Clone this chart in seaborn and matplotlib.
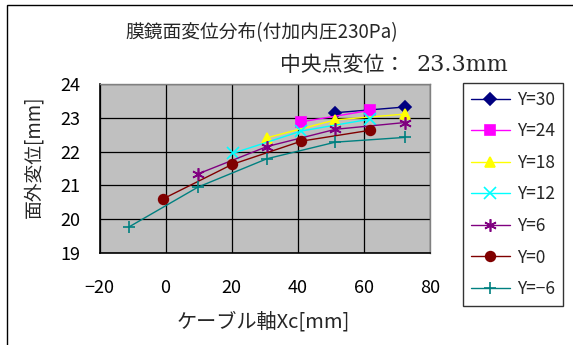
import numpy as np
import pandas as pd
import seaborn as sns
import matplotlib
matplotlib.use("Agg")
import matplotlib.pyplot as plt
from matplotlib.patches import Rectangle

# Membrane mirror out-of-plane displacement along the cable axis, per Y line
series_labels = ["Y=30", "Y=24", "Y=18", "Y=12", "Y=6", "Y=0", "Y=\u22126"]

xc_y30 = [51.4, 72.4]
dz_y30 = [23.15, 23.32]

xc_y24 = [41.1, 61.8]
dz_y24 = [22.88, 23.22]

xc_y18 = [30.7, 51.4, 72.4]
dz_y18 = [22.41, 22.94, 23.11]

xc_y12 = [20.4, 41.1, 61.8]
dz_y12 = [21.95, 22.61, 22.96]

xc_y6 = [9.8, 30.7, 51.4, 72.4]
dz_y6 = [21.34, 22.15, 22.66, 22.86]

xc_y0 = [-0.8, 20.1, 41.1, 61.8]
dz_y0 = [20.60, 21.62, 22.31, 22.63]

xc_ym6 = [-11.1, 9.8, 30.7, 51.4, 72.4]
dz_ym6 = [19.77, 20.95, 21.79, 22.28, 22.42]

x_ticks = [-20, 0, 20, 40, 60, 80]
y_ticks = [19, 20, 21, 22, 23, 24]

title_text = "膜鏡面変位分布(付加内圧230Pa)"
note_label = "中央点変位："
note_value = "23.3mm"
x_label = "ケーブル軸Xc[mm]"
y_label = "面外変位[mm]"

xs = [xc_y30, xc_y24, xc_y18, xc_y12, xc_y6, xc_y0, xc_ym6]
ys = [dz_y30, dz_y24, dz_y18, dz_y12, dz_y6, dz_y0, dz_ym6]
frames = []
for lab, xv, yv in zip(series_labels, xs, ys):
    frames.append(pd.DataFrame({"Xc": xv, "dz": yv, "series": lab}))
df = pd.concat(frames, ignore_index=True)

palette = {
    "Y=30": "#000080",
    "Y=24": "#FF00FF",
    "Y=18": "#FFFF00",
    "Y=12": "#00FFFF",
    "Y=6": "#800080",
    "Y=0": "#800000",
    "Y=\u22126": "#008080",
}
markers = {
    "Y=30": "D",
    "Y=24": "s",
    "Y=18": "^",
    "Y=12": "x",
    "Y=6": (6, 2, 0),
    "Y=0": "o",
    "Y=\u22126": "+",
}
msize = {
    "Y=30": 6, "Y=24": 6.5, "Y=18": 7.5, "Y=12": 8,
    "Y=6": 9, "Y=0": 7, "Y=\u22126": 8,
}

sns.set_theme(style="white")
plt.rcParams["font.family"] = ["Noto Sans CJK JP", "DejaVu Sans"]
plt.rcParams["axes.unicode_minus"] = True

W, H = 573, 345
fig = plt.figure(figsize=(W / 100, H / 100), dpi=100)
fig.patch.set_facecolor("white")

# outer chart frame (runs off the right and bottom edges)
fig.add_artist(Rectangle((7 / W, -10 / H), 580 / W, 350 / H, transform=fig.transFigure,
                         fill=False, edgecolor="black", linewidth=1.0))

left, right, top, bottom = 99.5, 430, 84, 253
ax = fig.add_axes([left / W, 1 - bottom / H, (right - left) / W, (bottom - top) / H])
ax.set_facecolor("#C0C0C0")

# one call per series so filled and line-art markers can coexist
for lab in series_labels:
    sub = df[df["series"] == lab]
    sns.lineplot(data=sub, x="Xc", y="dz", color=palette[lab], marker=markers[lab],
                 markersize=msize[lab], markeredgewidth=1.2,
                 markeredgecolor=palette[lab], markerfacecolor=palette[lab],
                 linewidth=1.0, sort=False, label=lab, ax=ax)

ax.set_xlim(-20, 80)
ax.set_ylim(19, 24)
ax.set_xticks(x_ticks)
ax.set_yticks(y_ticks)
ax.grid(True, color="black", linewidth=0.9)
ax.set_axisbelow(True)
for s in ["top", "right"]:
    ax.spines[s].set_color("#808080")
    ax.spines[s].set_linewidth(1.0)
for s in ["left", "bottom"]:
    ax.spines[s].set_color("black")
    ax.spines[s].set_linewidth(1.2)
ax.tick_params(axis="x", labelsize=13, length=0, pad=19, colors="black")
ax.tick_params(axis="y", labelsize=13, length=0, pad=14, colors="black")
ax.set_xlabel("")
ax.set_ylabel("")

fig.text(263 / W, 1 - 322 / H, x_label, ha="center", va="center", fontsize=14.5)
fig.text(34 / W, 1 - 157 / H, y_label, ha="center", va="center", fontsize=13.5,
         rotation=90)

handles, labels = ax.get_legend_handles_labels()
if ax.get_legend() is not None:
    ax.get_legend().remove()
leg = fig.legend(handles, labels, loc="upper left",
                 bbox_to_anchor=(463 / W, 1 - 83 / H), bbox_transform=fig.transFigure,
                 borderaxespad=0, frameon=True, fontsize=12.5, handlelength=2.25,
                 handletextpad=0.4, labelspacing=0.78, borderpad=0.45, fancybox=False)
leg.get_frame().set_edgecolor("black")
leg.get_frame().set_linewidth(1.0)

fig.text(125 / W, 1 - 33 / H, title_text, ha="left", va="center", fontsize=13.5)
fig.text(280 / W, 1 - 65 / H, note_label, ha="left", va="center", fontsize=15)
fig.text(508 / W, 1 - 65 / H, note_value, ha="right", va="center", fontsize=16,
         family=["DejaVu Serif"])

fig.savefig("out.png", dpi=100)
